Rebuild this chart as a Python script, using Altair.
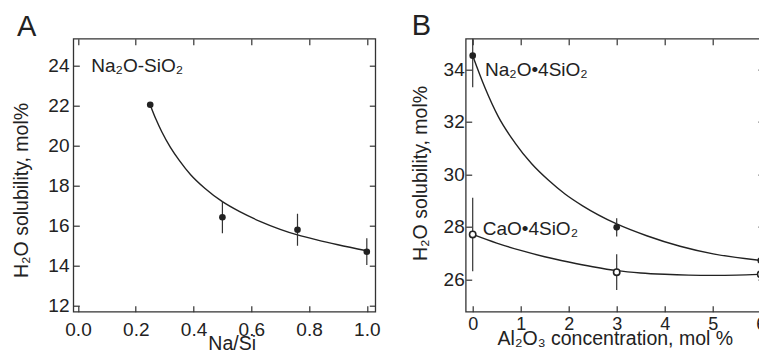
import altair as alt
import pandas as pd

FONT = "Liberation Sans, Arial, Helvetica, DejaVu Sans, sans-serif"
INK = "#222222"
FRAME = "#333333"

# ---------------- Panel A : Na2O-SiO2 ----------------
a_ratio = [0.25, 0.50, 0.76, 1.00]
a_sol = [22.05, 16.42, 15.80, 14.70]
a_err = [0.0, 0.80, 0.80, 0.67]
a_fit_x = [0.25, 0.27, 0.29, 0.32, 0.35, 0.39, 0.44, 0.50, 0.56, 0.63, 0.70, 0.76, 0.83, 0.90, 1.0]
a_fit_y = [22.04, 21.32, 20.70, 19.92, 19.28, 18.55, 17.86, 17.20, 16.70, 16.22, 15.82, 15.54, 15.28, 15.05, 14.75]
a_xticks = [0.0, 0.2, 0.4, 0.6, 0.8, 1.0]
a_yticks = [12, 14, 16, 18, 20, 22, 24]
a_label = ["Na₂O-SiO₂"]
a_label_pos = [0.046, 23.7]

# ---------------- Panel B : Al2O3 series ----------------
b_al = [0, 3, 6]
b_na_sol = [34.52, 27.98, 26.72]
b_na_err = [1.2, 0.35, 0.0]
b_ca_sol = [27.71, 26.27, 26.19]
b_ca_err = [1.4, 0.68, 0.0]
b_na_fit_x = [0.0, 0.256, 0.533, 0.881, 1.229, 1.575, 1.923, 2.29, 3.0, 3.625, 4.32, 5.01, 6.0]
b_na_fit_y = [34.52, 33.30, 32.20, 31.20, 30.40, 29.78, 29.25, 28.80, 28.11, 27.66, 27.26, 26.97, 26.72]
b_ca_fit_x = [0.0, 0.5, 1.0, 1.5, 2.0, 2.5, 3.0, 3.5, 4.0, 4.5, 5.0, 5.5, 6.0]
b_ca_fit_y = [27.71, 27.38, 27.10, 26.86, 26.66, 26.48, 26.33, 26.24, 26.19, 26.16, 26.15, 26.16, 26.19]
b_xticks = [0, 1, 2, 3, 4, 5, 6]
b_yticks = [26, 28, 30, 32, 34]
b_labels = ["Na₂O•4SiO₂", "CaO•4SiO₂"]
b_label_x = [0.256, 0.208]
b_label_y = [33.74, 27.69]

W_A, W_B, H = 302, 298.3, 273
LEFT, TOP = 73.3, 38.7


def bottom_axis(values, fmt, title, tx, ty, pad, size):
    return alt.Axis(orient="bottom", values=values, format=fmt, title=title,
                    offset=-6, tickSize=6, domain=False, grid=False,
                    tickColor=FRAME, tickWidth=1.2,
                    labelPadding=pad, labelFontSize=size, labelFont=FONT,
                    labelColor=INK, labelFlush=False, labelOverlap=False,
                    titleX=tx, titleY=ty, titleAlign="center",
                    titleBaseline="alphabetic", titleFont=FONT,
                    titleFontSize=19.5, titleFontWeight="normal", titleColor=INK)


def left_axis(values, title, tx, ty, pad, size):
    return alt.Axis(orient="left", values=values, format="d", title=title,
                    offset=-6, tickSize=6, domain=False, grid=False,
                    tickColor=FRAME, tickWidth=1.2,
                    labelPadding=pad, labelFontSize=size, labelFont=FONT,
                    labelColor=INK, labelFlush=False, labelOverlap=False,
                    titleX=tx, titleY=ty, titleAngle=270, titleAlign="center",
                    titleBaseline="alphabetic", titleFont=FONT,
                    titleFontSize=19.5, titleFontWeight="normal", titleColor=INK)


def mirror_axis(orient, values):
    return alt.Axis(orient=orient, values=values, labels=False, title=None,
                    offset=-6, tickSize=6, domain=False, grid=False,
                    tickColor=FRAME, tickWidth=1.2)


def letter(txt, dx, dy):
    return alt.Chart(pd.DataFrame({"t": [txt]})).mark_text(
        align="left", baseline="alphabetic", font=FONT, fontSize=29, color=INK
    ).encode(x=alt.value(dx), y=alt.value(dy), text="t:N")


# ---- Panel A ----
xsA = alt.Scale(domain=[-0.0163, 1.0294], nice=False, zero=False)
ysA = alt.Scale(domain=[11.7, 25.35], nice=False, zero=False)

dfA = pd.DataFrame({"x": a_ratio, "y": a_sol, "err": a_err})
dfA["lo"] = dfA["y"] - dfA["err"]
dfA["hi"] = dfA["y"] + dfA["err"]
dfA_err = dfA[dfA["err"] > 0]
dfA_fit = pd.DataFrame({"x": a_fit_x, "y": a_fit_y})

fitA = alt.Chart(dfA_fit).mark_line(color=INK, strokeWidth=1.4, interpolate="monotone").encode(
    x=alt.X("x:Q", scale=xsA, axis=mirror_axis("top", a_xticks)),
    y=alt.Y("y:Q", scale=ysA, axis=mirror_axis("right", a_yticks)),
)
errA = alt.Chart(dfA_err).mark_rule(color=FRAME, strokeWidth=1.2, clip=True).encode(
    x=alt.X("x:Q", scale=xsA, axis=None),
    y=alt.Y("lo:Q", scale=ysA, axis=None),
    y2="hi:Q",
)
ptsA = alt.Chart(dfA).mark_point(filled=True, shape="circle", size=44, color=INK, opacity=1).encode(
    x=alt.X("x:Q", scale=xsA,
            axis=bottom_axis(a_xticks, ".1f", "Na/Si", 158.4, 43.3, 8.6, 19)),
    y=alt.Y("y:Q", scale=ysA,
            axis=left_axis(a_yticks, "H₂O solubility, mol%", -52, 151.3, 4.3, 19)),
)
txtA = alt.Chart(pd.DataFrame({"x": [a_label_pos[0]], "y": [a_label_pos[1]], "t": a_label})).mark_text(
    align="left", baseline="alphabetic", font=FONT, fontSize=19, color=INK
).encode(
    x=alt.X("x:Q", scale=xsA, axis=None),
    y=alt.Y("y:Q", scale=ysA, axis=None),
    text="t:N",
)
panelA = alt.layer(fitA, errA, ptsA, txtA, letter("A", -56.3, -2.7)).properties(width=W_A, height=H)

# ---- Panel B ----
xsB = alt.Scale(domain=[-0.1458, 6.069], nice=False, zero=False)
ysB = alt.Scale(domain=[24.766, 35.166], nice=False, zero=False)

dfB_fit = pd.concat([
    pd.DataFrame({"x": b_na_fit_x, "y": b_na_fit_y, "s": "Na"}),
    pd.DataFrame({"x": b_ca_fit_x, "y": b_ca_fit_y, "s": "Ca"}),
])
dfB_na = pd.DataFrame({"x": b_al, "y": b_na_sol, "err": b_na_err})
dfB_ca = pd.DataFrame({"x": b_al, "y": b_ca_sol, "err": b_ca_err})
dfB_err = pd.concat([dfB_na, dfB_ca])
dfB_err = dfB_err[dfB_err["err"] > 0].copy()
dfB_err["lo"] = dfB_err["y"] - dfB_err["err"]
dfB_err["hi"] = dfB_err["y"] + dfB_err["err"]

fitB = alt.Chart(dfB_fit).mark_line(color=INK, strokeWidth=1.4, interpolate="monotone").encode(
    x=alt.X("x:Q", scale=xsB, axis=mirror_axis("top", b_xticks)),
    y=alt.Y("y:Q", scale=ysB, axis=mirror_axis("right", b_yticks)),
    detail="s:N",
)
errB = alt.Chart(dfB_err).mark_rule(color=FRAME, strokeWidth=1.2, clip=True).encode(
    x=alt.X("x:Q", scale=xsB, axis=None),
    y=alt.Y("lo:Q", scale=ysB, axis=None),
    y2="hi:Q",
)
naB = alt.Chart(dfB_na).mark_point(filled=True, shape="circle", size=44, color=INK, opacity=1).encode(
    x=alt.X("x:Q", scale=xsB, axis=None),
    y=alt.Y("y:Q", scale=ysB, axis=None),
)
caB = alt.Chart(dfB_ca).mark_point(shape="circle", size=40, filled=True, fill="white",
                                   stroke=INK, strokeWidth=1.6, opacity=1).encode(
    x=alt.X("x:Q", scale=xsB,
            axis=bottom_axis(b_xticks, "d", "Al₂O₃ concentration, mol %", 149.15, 38.8, 3.5, 18)),
    y=alt.Y("y:Q", scale=ysB,
            axis=left_axis(b_yticks, "H₂O solubility, mol%", -45.4, 134.3, 1.5, 19)),
)
txtB = alt.Chart(pd.DataFrame({"x": b_label_x, "y": b_label_y, "t": b_labels})).mark_text(
    align="left", baseline="alphabetic", font=FONT, fontSize=19, color=INK
).encode(
    x=alt.X("x:Q", scale=xsB, axis=None),
    y=alt.Y("y:Q", scale=ysB, axis=None),
    text="t:N",
)
panelB = alt.layer(fitB, errB, naB, caB, txtB, letter("B", -54, -3.7)).properties(width=W_B, height=H)

chart = alt.hconcat(panelA, panelB, spacing=90.4, bounds="flush").properties(
    autosize=alt.AutoSizeParams(type="none"),
    padding={"left": LEFT, "top": TOP, "right": 759 - LEFT, "bottom": 358 - TOP},
    background="white",
).configure_view(stroke=FRAME, strokeWidth=1.3)

chart.save("out.html", embed_options={"renderer": "svg", "actions": False})
